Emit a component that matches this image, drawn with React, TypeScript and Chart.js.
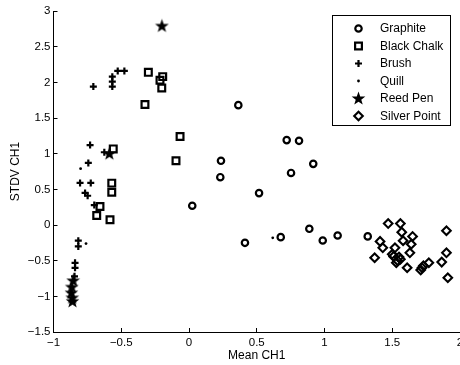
import { useEffect, useRef } from "react";
import { Chart, registerables } from "chart.js";
import { drawPoint } from "chart.js/helpers";

Chart.register(...registerables);

const seriesNames = ["Graphite", "Black Chalk", "Brush", "Quill", "Reed Pen", "Silver Point"];

const graphiteX = [0.364, 0.721, 0.812, 0.917, 0.753, 0.236, 0.231, 0.517, 0.024, 0.413, 0.677, 0.888, 0.987, 1.097, 1.319];
const graphiteY = [1.68, 1.19, 1.18, 0.857, 0.73, 0.9, 0.67, 0.447, 0.27, -0.25, -0.17, -0.053, -0.217, -0.147, -0.16];

const chalkX = [-0.3, -0.194, -0.214, -0.201, -0.325, -0.066, -0.096, -0.559, -0.57, -0.57, -0.657, -0.681, -0.583];
const chalkY = [2.14, 2.08, 2.03, 1.92, 1.69, 1.24, 0.9, 1.067, 0.587, 0.46, 0.26, 0.133, 0.073];

const brushX = [-0.526, -0.477, -0.566, -0.566, -0.566, -0.706, -0.73, -0.625, -0.743, -0.804, -0.725, -0.767, -0.748, -0.699, -0.817, -0.817, -0.841, -0.841, -0.845];
const brushY = [2.16, 2.16, 2.08, 2.01, 1.94, 1.94, 1.12, 1.02, 0.87, 0.59, 0.59, 0.45, 0.41, 0.28, -0.22, -0.3, -0.53, -0.6, -0.72];

const quillX = [-0.8, -0.76, 0.618];
const quillY = [0.79, -0.26, -0.18];

const reedX = [-0.2, -0.588, -0.855, -0.865, -0.868, -0.862, -0.86];
const reedY = [2.79, 1.0, -0.78, -0.87, -0.95, -1.02, -1.07];

const silverX = [1.47, 1.56, 1.57, 1.65, 1.58, 1.41, 1.43, 1.64, 1.52, 1.63, 1.5, 1.37, 1.55, 1.53, 1.61, 1.77, 1.73, 1.71, 1.9, 1.9, 1.865, 1.91, 1.56, 1.51, 1.54, 1.72];
const silverY = [0.02, 0.02, -0.1, -0.16, -0.22, -0.23, -0.32, -0.27, -0.32, -0.39, -0.41, -0.46, -0.45, -0.53, -0.6, -0.53, -0.57, -0.63, -0.08, -0.39, -0.52, -0.74, -0.48, -0.44, -0.5, -0.6];

const xTickMin = -1;
const xTickMax = 2;
const xTickStep = 0.5;
const yTickMin = -1.5;
const yTickMax = 3;
const yTickStep = 0.5;

const FONT = '"Liberation Sans", Arial, Helvetica, sans-serif';

function pts(xs: number[], ys: number[]) {
  return xs.map((x, i) => ({ x, y: ys[i] }));
}

function fmt(v: number) {
  const n = Number(Number(v).toFixed(2));
  return n < 0 ? "\u2212" + String(-n) : String(n);
}

function makeStar() {
  const c = document.createElement("canvas");
  c.width = 15;
  c.height = 15;
  const ctx = c.getContext("2d")!;
  const cx = 7.5, cy = 7.8, R = 7.2, r = 2.9;
  ctx.beginPath();
  for (let i = 0; i < 10; i++) {
    const a = -Math.PI / 2 + (i * Math.PI) / 5;
    const rad = i % 2 === 0 ? R : r;
    const px = cx + rad * Math.cos(a);
    const py = cy + rad * Math.sin(a);
    if (i === 0) ctx.moveTo(px, py);
    else ctx.lineTo(px, py);
  }
  ctx.closePath();
  ctx.fillStyle = "#000";
  ctx.fill();
  return c;
}

const insideTicks = {
  id: "insideTicks",
  afterDraw(chart: any) {
    const { ctx, chartArea, scales } = chart;
    ctx.save();
    ctx.strokeStyle = "#000";
    ctx.lineWidth = 1;
    ctx.beginPath();
    scales.x.ticks.forEach((t: any) => {
      const px = Math.round(scales.x.getPixelForValue(t.value) - 0.5) + 0.5;
      ctx.moveTo(px, chartArea.bottom);
      ctx.lineTo(px, chartArea.bottom - 4);
    });
    scales.y.ticks.forEach((t: any) => {
      const py = Math.round(scales.y.getPixelForValue(t.value) - 0.5) + 0.5;
      ctx.moveTo(chartArea.left, py);
      ctx.lineTo(chartArea.left + 4, py);
    });
    ctx.stroke();
    ctx.restore();
  },
};

const boxLegend = {
  id: "boxLegend",
  afterDraw(chart: any) {
    const { ctx } = chart;
    ctx.save();
    ctx.fillStyle = "#fff";
    ctx.strokeStyle = "#000";
    ctx.lineWidth = 1;
    ctx.fillRect(332.5, 15.5, 118, 110);
    ctx.strokeRect(332.5, 15.5, 118, 110);
    chart.data.datasets.forEach((ds: any, i: number) => {
      const y = 28.5 + i * 17.5;
      ctx.fillStyle = ds.backgroundColor;
      ctx.strokeStyle = ds.borderColor;
      ctx.lineWidth = ds.borderWidth;
      drawPoint(ctx, { pointStyle: ds.pointStyle, radius: ds.pointRadius, borderWidth: ds.borderWidth, rotation: 0 }, 358.5, y);
      ctx.fillStyle = "#000";
      ctx.font = "12px " + FONT;
      ctx.textBaseline = "middle";
      ctx.textAlign = "left";
      ctx.fillText(ds.label, 380, y + 0.5);
    });
    ctx.restore();
  },
};

export default function App() {
  const ref = useRef<HTMLCanvasElement | null>(null);
  useEffect(() => {
    document.body.style.margin = "0";
    const star = makeStar();
    const base = { borderColor: "#000", showLine: false };
    const chart = new Chart(ref.current!, {
      type: "scatter",
      data: {
        datasets: [
          { ...base, label: seriesNames[0], data: pts(graphiteX, graphiteY), pointStyle: "circle", pointRadius: 3.2, borderWidth: 2.2, backgroundColor: "rgba(0,0,0,0)", order: 6 },
          { ...base, label: seriesNames[1], data: pts(chalkX, chalkY), pointStyle: "rect", pointRadius: 4.8, borderWidth: 2.2, backgroundColor: "rgba(0,0,0,0)", order: 5 },
          { ...base, label: seriesNames[2], data: pts(brushX, brushY), pointStyle: "cross", pointRadius: 3.5, borderWidth: 2.2, backgroundColor: "rgba(0,0,0,0)", order: 4 },
          { ...base, label: seriesNames[3], data: pts(quillX, quillY), pointStyle: "circle", pointRadius: 1.4, borderWidth: 0, backgroundColor: "#000", order: 3 },
          { ...base, label: seriesNames[4], data: pts(reedX, reedY), pointStyle: star, pointRadius: 7, borderWidth: 0, backgroundColor: "#000", order: 2 },
          { ...base, label: seriesNames[5], data: pts(silverX, silverY), pointStyle: "rectRot", pointRadius: 4.3, borderWidth: 2.1, backgroundColor: "rgba(0,0,0,0)", order: 1 },
        ] as any,
      },
      options: {
        animation: false,
        responsive: false,
        layout: { autoPadding: false, padding: { top: 11, left: 0, right: 0, bottom: 0 } },
        plugins: { legend: { display: false }, tooltip: { enabled: false } },
        elements: { point: { hoverRadius: 0 } },
        events: [],
        scales: {
          x: {
            type: "linear",
            min: xTickMin,
            max: xTickMax,
            grid: { display: false, drawTicks: false },
            border: { display: true, color: "#000", width: 1 },
            ticks: { stepSize: xTickStep, color: "#000", padding: 4, maxRotation: 0, autoSkip: false, font: { family: FONT, size: 11.5 }, callback: (v: any) => fmt(v) },
            title: { display: true, text: "Mean CH1", color: "#000", font: { family: FONT, size: 12 }, padding: { top: 0, bottom: 2 } },
            afterFit: (s: any) => { s.height = 33; s.paddingLeft = 0; s.paddingRight = 0; },
          },
          y: {
            type: "linear",
            min: yTickMin,
            max: yTickMax,
            grid: { display: false, drawTicks: false },
            border: { display: true, color: "#000", width: 1 },
            ticks: { stepSize: yTickStep, color: "#000", padding: 3, autoSkip: false, font: { family: FONT, size: 11.5 }, callback: (v: any) => fmt(v) },
            title: { display: true, text: "STDV CH1", color: "#000", font: { family: FONT, size: 12 }, padding: { top: 8, bottom: 8 } },
            afterFit: (s: any) => { s.width = 53.5; s.paddingTop = 0; s.paddingBottom = 0; },
          },
        },
      } as any,
      plugins: [insideTicks, boxLegend],
    });
    return () => chart.destroy();
  }, []);
  return (
    <div style={{ position: "absolute", left: 0, top: 0, width: 460, height: 365 }}>
      <canvas ref={ref} width={460} height={365} />
    </div>
  );
}
